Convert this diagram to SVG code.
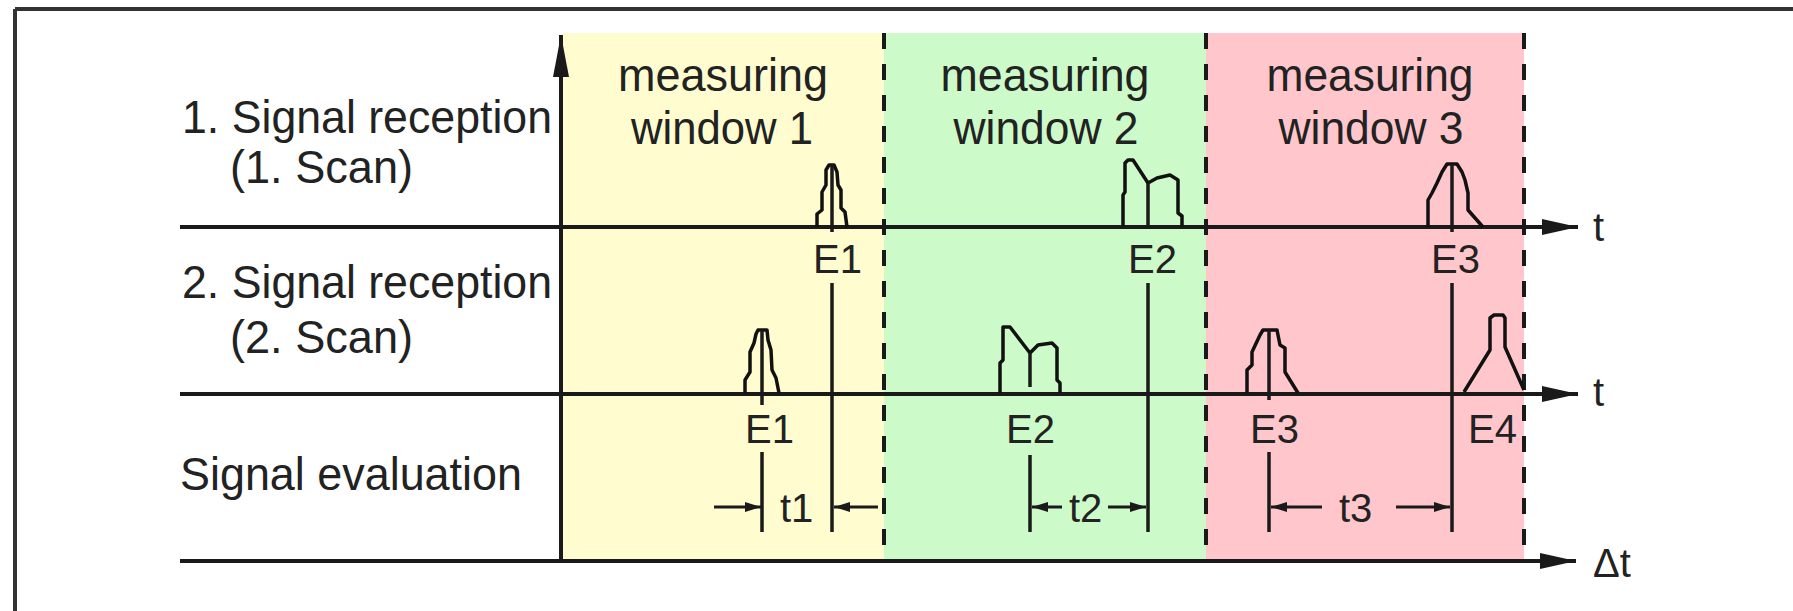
<svg xmlns="http://www.w3.org/2000/svg" width="1793" height="611" viewBox="0 0 1793 611">
  <style>
    .lbl { font-family: "Liberation Sans", Arial, sans-serif; font-size: 47px; fill: #222; }
    .sm { font-family: "Liberation Sans", Arial, sans-serif; font-size: 40px; fill: #222; }
    .mid { text-anchor: middle; }
    .ax { stroke: #1a1a1a; stroke-width: 4; fill: none; }
    .frame { stroke: #333; stroke-width: 4; fill: none; }
    .dash { stroke: #1a1a1a; stroke-width: 4; stroke-dasharray: 16 15; fill: none; }
    .mk { stroke: #1a1a1a; stroke-width: 3.5; fill: none; }
    .pulse { stroke: #111; stroke-width: 3.5; fill: none; stroke-linejoin: round; }
    .dim { stroke: #1a1a1a; stroke-width: 3; fill: none; }
  </style>
  <defs>
    <marker id="axHead" viewBox="0 0 36 16" refX="36" refY="8" markerWidth="36" markerHeight="16" markerUnits="userSpaceOnUse" orient="auto">
      <path d="M0,0 L36,8 L0,16 z" fill="#1a1a1a"/>
    </marker>
    <marker id="vHead" viewBox="0 0 42 16" refX="42" refY="8" markerWidth="42" markerHeight="16" markerUnits="userSpaceOnUse" orient="auto">
      <path d="M0,0 L42,8 L0,16 z" fill="#1a1a1a"/>
    </marker>
    <marker id="dimHead" viewBox="0 0 16 10" refX="16" refY="5" markerWidth="16" markerHeight="10" markerUnits="userSpaceOnUse" orient="auto">
      <path d="M0,0 L16,5 L0,10 z" fill="#1a1a1a"/>
    </marker>
  </defs>

  <rect x="0" y="0" width="1793" height="611" fill="#ffffff"/>

  <g id="frame">
    <line class="frame" x1="15" y1="9" x2="1793" y2="9"/>
    <line class="frame" x1="15" y1="9" x2="15" y2="611"/>
  </g>

  <g id="window1">
    <rect x="562" y="33" width="322" height="528" fill="#fffcd0"/>
    <text class="lbl mid" x="723" y="91" textLength="210" lengthAdjust="spacingAndGlyphs">measuring</text>
    <text class="lbl mid" x="722" y="144" textLength="182" lengthAdjust="spacingAndGlyphs">window 1</text>
  </g>
  <g id="window2">
    <rect x="884" y="33" width="322" height="528" fill="#ccfbc9"/>
    <text class="lbl mid" x="1045" y="91" textLength="209" lengthAdjust="spacingAndGlyphs">measuring</text>
    <text class="lbl mid" x="1046" y="144" textLength="185" lengthAdjust="spacingAndGlyphs">window 2</text>
  </g>
  <g id="window3">
    <rect x="1206" y="33" width="318" height="528" fill="#ffc7cc"/>
    <text class="lbl mid" x="1370" y="91" textLength="207" lengthAdjust="spacingAndGlyphs">measuring</text>
    <text class="lbl mid" x="1371" y="144" textLength="185" lengthAdjust="spacingAndGlyphs">window 3</text>
  </g>

  <g id="row-labels">
    <text class="lbl" x="182" y="133" textLength="370" lengthAdjust="spacingAndGlyphs">1. Signal reception</text>
    <text class="lbl" x="230" y="183" textLength="183" lengthAdjust="spacingAndGlyphs">(1. Scan)</text>
    <text class="lbl" x="182" y="298" textLength="370" lengthAdjust="spacingAndGlyphs">2. Signal reception</text>
    <text class="lbl" x="230" y="353" textLength="183" lengthAdjust="spacingAndGlyphs">(2. Scan)</text>
    <text class="lbl" x="180" y="490" textLength="342" lengthAdjust="spacingAndGlyphs">Signal evaluation</text>
  </g>

  <g id="axes">
    <line class="ax" x1="561" y1="561" x2="561" y2="35" marker-end="url(#vHead)"/>
    <line class="ax" x1="180" y1="227" x2="1578" y2="227" marker-end="url(#axHead)"/>
    <line class="ax" x1="180" y1="394" x2="1578" y2="394" marker-end="url(#axHead)"/>
    <line class="ax" x1="180" y1="561" x2="1576" y2="561" marker-end="url(#axHead)"/>
    <text class="sm" x="1593" y="241">t</text>
    <text class="sm" x="1593" y="406">t</text>
    <text class="sm" x="1593" y="577">Δt</text>
  </g>

  <g id="window-borders">
    <line class="dash" x1="884" y1="33" x2="884" y2="561"/>
    <line class="dash" x1="1206" y1="33" x2="1206" y2="561"/>
    <line class="dash" x1="1524" y1="33" x2="1524" y2="561"/>
  </g>

  <g id="scan1-pulses">
    <path class="pulse" d="M817,227 L817,214 L822,210 L822,192 L826,185 L826,170 L829,165 L834,165 L837,172 L838,185 L841,190 L841,208 L845,212 L847,227"/>
    <line class="mk" x1="832" y1="165" x2="832" y2="232"/>
    <path class="pulse" d="M1123,226 L1123,195 L1125,192 L1125,163 L1128,160 L1133,160 L1148,183 L1157,178 L1170,175 L1178,180 L1178,213 L1182,216 L1182,226"/>
    <line class="mk" x1="1148" y1="183" x2="1148" y2="227"/>
    <path class="pulse" d="M1428,227 L1428,200 L1432,193 L1437,183 L1442,172 L1447,164 L1457,164 L1462,172 L1465,180 L1468,193 L1468,210 L1483,227"/>
    <line class="mk" x1="1452" y1="164" x2="1452" y2="232"/>
    <text class="sm" x="813" y="273">E1</text>
    <text class="sm" x="1128" y="273">E2</text>
    <text class="sm" x="1431" y="273">E3</text>
  </g>

  <g id="scan2-pulses">
    <path class="pulse" d="M745,393 L745,380 L750,372 L750,352 L754,343 L756,334 L758,330 L767,330 L768,340 L771,350 L772,370 L776,378 L779,393"/>
    <line class="mk" x1="762" y1="330" x2="762" y2="405"/>
    <path class="pulse" d="M1000,393 L1000,363 L1003,360 L1003,327 L1010,327 L1030,353 L1038,345 L1052,343 L1057,348 L1057,380 L1060,383 L1060,393"/>
    <line class="mk" x1="1030" y1="353" x2="1030" y2="387"/>
    <path class="pulse" d="M1247,393 L1247,370 L1252,365 L1252,352 L1260,335 L1263,330 L1277,330 L1280,345 L1285,348 L1285,372 L1298,393"/>
    <line class="mk" x1="1269" y1="330" x2="1269" y2="400"/>
    <path class="pulse" d="M1464,392 L1490,350 L1490,318 L1494,315 L1503,315 L1505,318 L1505,347 L1524,390"/>
    <text class="sm" x="745" y="443">E1</text>
    <text class="sm" x="1006" y="443">E2</text>
    <text class="sm" x="1250" y="443">E3</text>
    <text class="sm" x="1468" y="443">E4</text>
  </g>

  <g id="connectors">
    <line class="mk" x1="832" y1="283" x2="832" y2="532"/>
    <line class="mk" x1="1148" y1="283" x2="1148" y2="532"/>
    <line class="mk" x1="1452" y1="283" x2="1452" y2="532"/>
    <line class="mk" x1="762" y1="452" x2="762" y2="532"/>
    <line class="mk" x1="1030" y1="455" x2="1030" y2="532"/>
    <line class="mk" x1="1269" y1="452" x2="1269" y2="532"/>
    <line class="dim" x1="714" y1="507" x2="761" y2="507" marker-end="url(#dimHead)"/>
    <line class="dim" x1="878" y1="507" x2="834" y2="507" marker-end="url(#dimHead)"/>
    <line class="dim" x1="1062" y1="507" x2="1032" y2="507" marker-end="url(#dimHead)"/>
    <line class="dim" x1="1108" y1="507" x2="1146" y2="507" marker-end="url(#dimHead)"/>
    <line class="dim" x1="1322" y1="507" x2="1271" y2="507" marker-end="url(#dimHead)"/>
    <line class="dim" x1="1396" y1="507" x2="1450" y2="507" marker-end="url(#dimHead)"/>
    <text class="sm" x="780" y="522">t1</text>
    <text class="sm" x="1069" y="522">t2</text>
    <text class="sm" x="1339" y="522">t3</text>
  </g>
</svg>
